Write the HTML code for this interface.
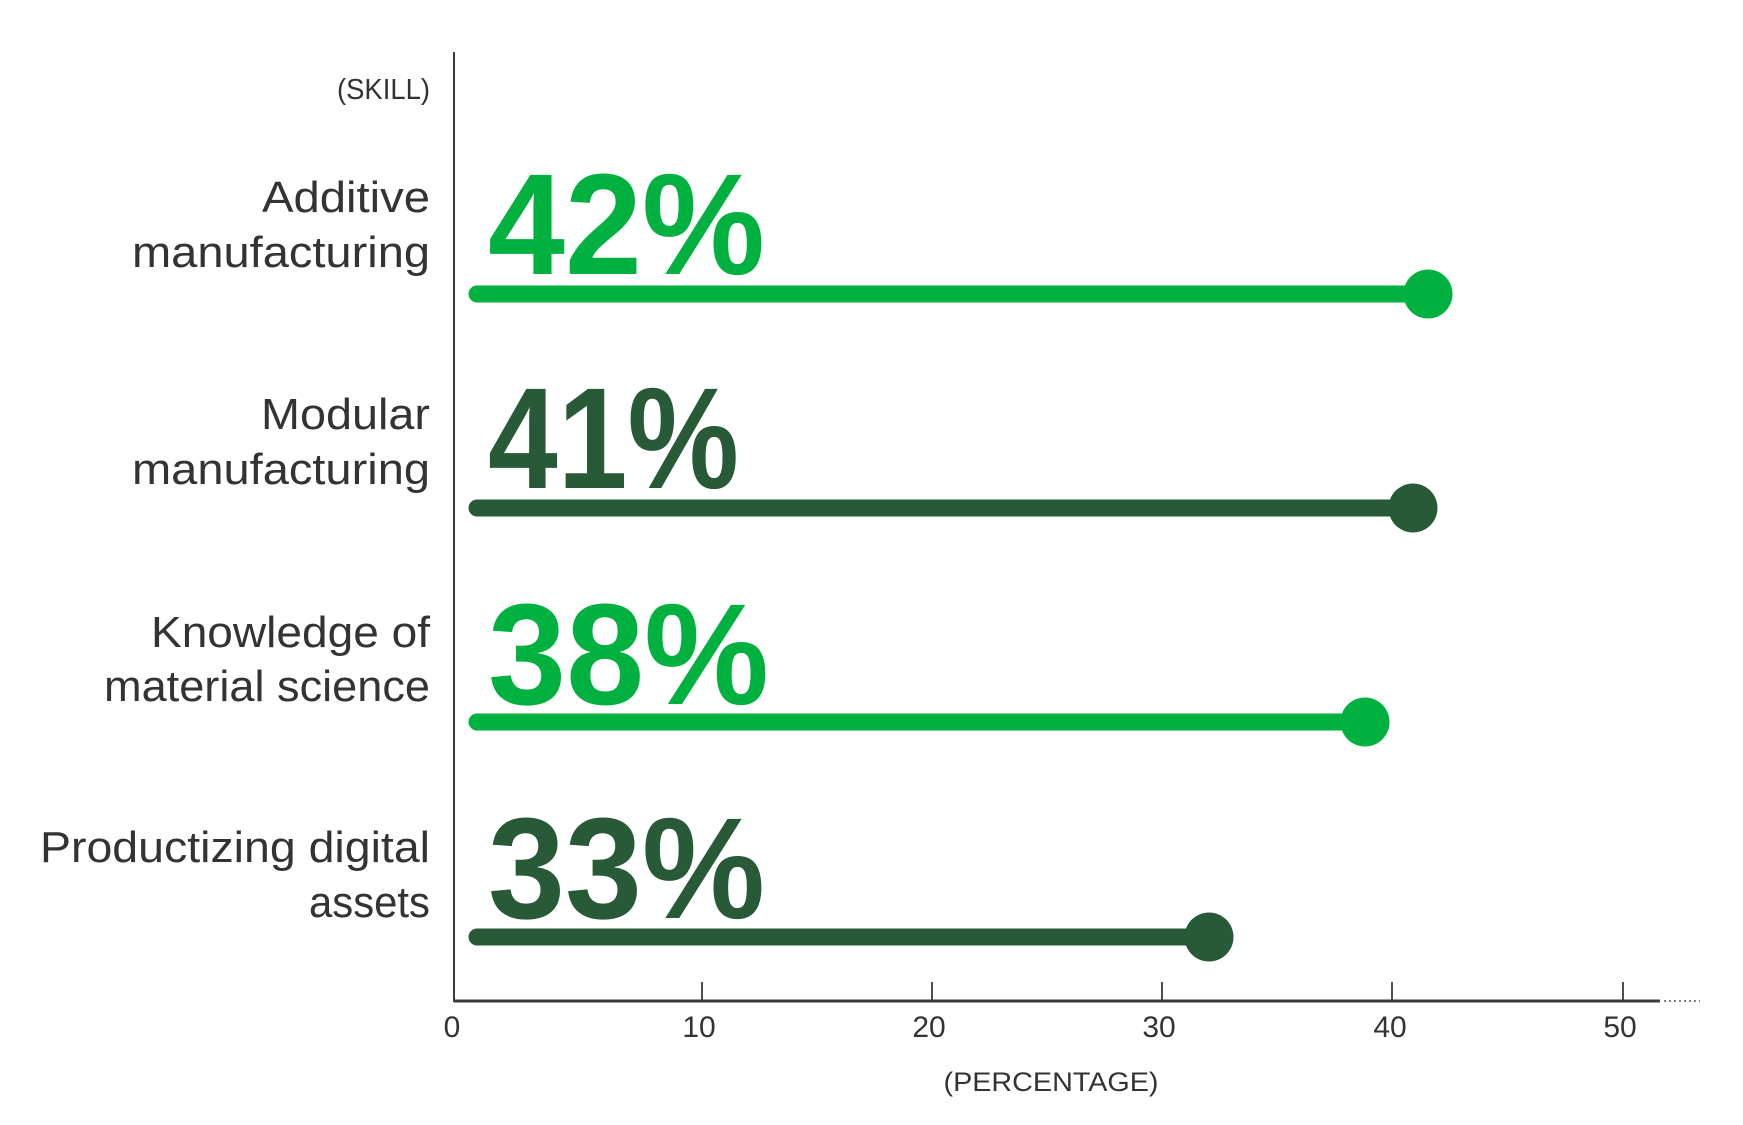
<!DOCTYPE html>
<html><head><meta charset="utf-8"><style>
html,body{margin:0;padding:0;background:#fff;}
svg{display:block;}
text{font-family:"Liberation Sans",sans-serif;}
</style></head><body>
<svg width="1743" height="1125" viewBox="0 0 1743 1125" xmlns="http://www.w3.org/2000/svg">
<rect width="1743" height="1125" fill="#fff"/>
<line x1="454" y1="52" x2="454" y2="1002" stroke="#3a3a3a" stroke-width="2"/>
<line x1="454" y1="1001" x2="1660" y2="1001" stroke="#3a3a3a" stroke-width="3"/>
<line x1="1664" y1="1001" x2="1700" y2="1001" stroke="#555" stroke-width="1.5" stroke-dasharray="2,3"/>
<g stroke="#3a3a3a" stroke-width="1.8">
<line x1="702" y1="982" x2="702" y2="1001"/>
<line x1="932" y1="982" x2="932" y2="1001"/>
<line x1="1162" y1="982" x2="1162" y2="1001"/>
<line x1="1392" y1="982" x2="1392" y2="1001"/>
<line x1="1623" y1="982" x2="1623" y2="1001"/>
</g>
<g font-size="30" fill="#333" text-anchor="middle">
<text x="452" y="1037">0</text>
<text x="699" y="1037">10</text>
<text x="929" y="1037">20</text>
<text x="1159" y="1037">30</text>
<text x="1390" y="1037">40</text>
<text x="1620" y="1037">50</text>
<text x="1051" y="1091" font-size="27" textLength="215" lengthAdjust="spacingAndGlyphs">(PERCENTAGE)</text>
</g>
<g font-size="44" fill="#333" text-anchor="end">
<text x="430" y="99" font-size="29" textLength="93" lengthAdjust="spacingAndGlyphs">(SKILL)</text>
<text x="430" y="212" textLength="168" lengthAdjust="spacingAndGlyphs">Additive</text>
<text x="430" y="267" textLength="298" lengthAdjust="spacingAndGlyphs">manufacturing</text>
<text x="430" y="429" textLength="169" lengthAdjust="spacingAndGlyphs">Modular</text>
<text x="430" y="484" textLength="298" lengthAdjust="spacingAndGlyphs">manufacturing</text>
<text x="430" y="647" textLength="279" lengthAdjust="spacingAndGlyphs">Knowledge of</text>
<text x="430" y="701" textLength="326" lengthAdjust="spacingAndGlyphs">material science</text>
<text x="430" y="862" textLength="390" lengthAdjust="spacingAndGlyphs">Productizing digital</text>
<text x="430" y="917" textLength="121" lengthAdjust="spacingAndGlyphs">assets</text>
</g>
<g font-size="144" font-weight="bold">
<text x="488" y="274" fill="#00b140" textLength="277" lengthAdjust="spacingAndGlyphs">42%</text>
<text x="488" y="488" fill="#285a37" textLength="251" lengthAdjust="spacingAndGlyphs">41%</text>
<text x="488" y="704" fill="#00b140" textLength="281" lengthAdjust="spacingAndGlyphs">38%</text>
<text x="488" y="918" fill="#285a37" textLength="277" lengthAdjust="spacingAndGlyphs">33%</text>
</g>
<g stroke-width="17" stroke-linecap="round">
<line x1="477" y1="294" x2="1428" y2="294" stroke="#00b140"/>
<line x1="477" y1="508" x2="1413" y2="508" stroke="#285a37"/>
<line x1="477" y1="722" x2="1365" y2="722" stroke="#00b140"/>
<line x1="477" y1="937" x2="1209" y2="937" stroke="#285a37"/>
</g>
<circle cx="1428" cy="294" r="24.5" fill="#00b140"/>
<circle cx="1413" cy="508" r="24.5" fill="#285a37"/>
<circle cx="1365" cy="722" r="24.5" fill="#00b140"/>
<circle cx="1209" cy="937" r="24.5" fill="#285a37"/>
</svg>
</body></html>
